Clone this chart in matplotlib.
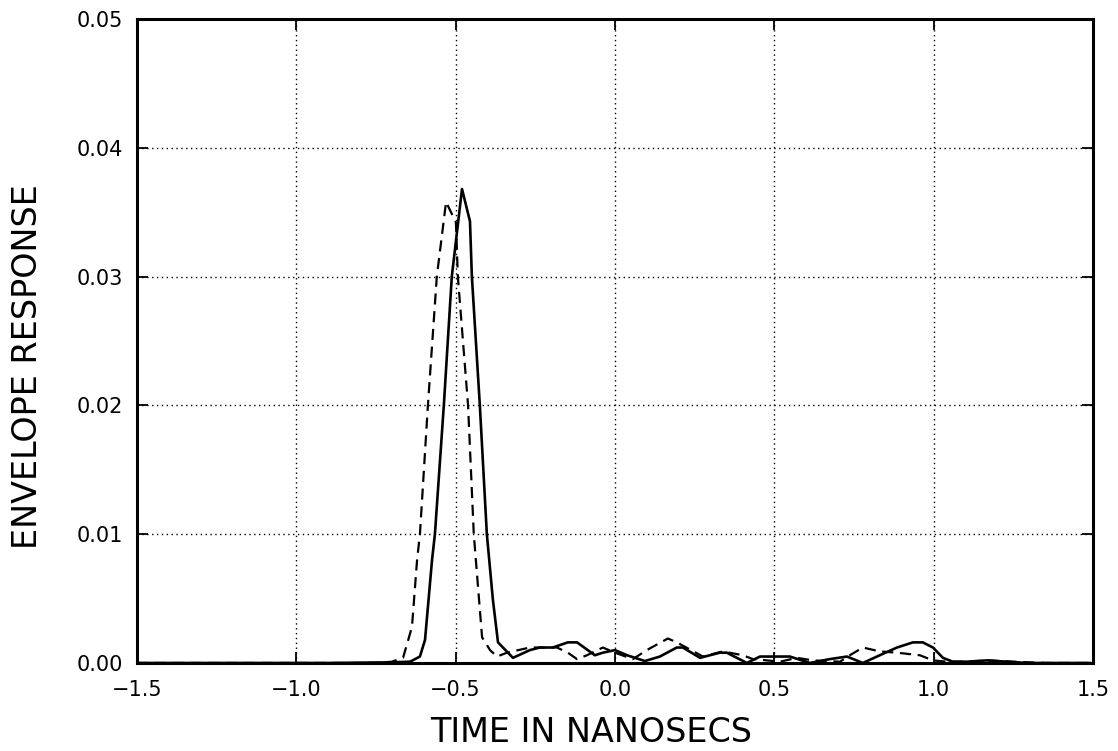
import numpy as np
import matplotlib
matplotlib.use("Agg")
from matplotlib import pyplot as plt

# solid curve (time in ns, envelope response)
solid_t = [-1.5, -0.9, -0.70, -0.643, -0.612, -0.596, -0.574, -0.565, -0.537, -0.512,
           -0.480, -0.455, -0.449, -0.424, -0.402, -0.383, -0.367, -0.320, -0.267, -0.236,
           -0.195, -0.148, -0.119, -0.063, -0.038, 0.000, 0.038, 0.094, 0.141, 0.194,
           0.213, 0.267, 0.329, 0.351, 0.414, 0.455, 0.486, 0.549, 0.574, 0.612,
           0.674, 0.728, 0.778, 0.831, 0.885, 0.935, 0.966, 0.998, 1.029, 1.060,
           1.104, 1.167, 1.230, 1.293, 1.355, 1.490]
solid_v = [0.0, 0.0, 0.00005, 0.0001, 0.0005, 0.0018, 0.0080, 0.0100, 0.0200, 0.0300,
           0.0368, 0.0343, 0.0300, 0.0200, 0.0100, 0.0049, 0.0016, 0.0004, 0.0010, 0.0012,
           0.0012, 0.0016, 0.0016, 0.0006, 0.0008, 0.0010, 0.0006, 0.00015, 0.0005, 0.0012,
           0.0012, 0.0004, 0.0008, 0.0008, 0.0, 0.0005, 0.0005, 0.0005, 0.0003, 0.0,
           0.0003, 0.0005, 0.0, 0.0006, 0.0012, 0.0016, 0.0016, 0.0012, 0.0004, 0.0001,
           0.0001, 0.0002, 0.0001, 0.0, 0.0, 0.0]

# dashed curve
dashed_t = [-1.5, -0.75, -0.70, -0.665, -0.637, -0.621, -0.612, -0.587, -0.559, -0.530,
            -0.499, -0.493, -0.461, -0.443, -0.417, -0.392, -0.370, -0.339, -0.267, -0.182,
            -0.148, -0.119, -0.088, -0.038, 0.000, 0.056, 0.100, 0.166, 0.194, 0.276,
            0.339, 0.401, 0.433, 0.477, 0.518, 0.571, 0.621, 0.706, 0.737, 0.778,
            0.831, 0.885, 0.957, 0.998, 1.042, 1.100, 1.170, 1.250, 1.350, 1.490]
dashed_v = [0.0, 0.0, 0.0001, 0.0004, 0.0028, 0.0080, 0.0100, 0.0200, 0.0300, 0.0358,
            0.0342, 0.0300, 0.0200, 0.0100, 0.0020, 0.0010, 0.0005, 0.0008, 0.0012, 0.0012,
            0.0008, 0.0003, 0.0006, 0.0012, 0.0008, 0.0003, 0.0010, 0.0019, 0.0016, 0.0005,
            0.0009, 0.0006, 0.0003, 0.0002, 0.0001, 0.0004, 0.0002, 0.0001, 0.0006, 0.0012,
            0.0009, 0.0008, 0.0006, 0.0002, 0.0001, 0.0001, 0.0002, 0.0001, 0.0, 0.0]

x_ticks = [-1.5, -1.0, -0.5, 0.0, 0.5, 1.0, 1.5]
x_labels = ['\u22121.5', '\u22121.0', '\u22120.5', '0.0', '0.5', '1.0', '1.5']
y_ticks = [0.0, 0.01, 0.02, 0.03, 0.04, 0.05]
y_labels = ['0.00', '0.01', '0.02', '0.03', '0.04', '0.05']

plt.rcParams['font.family'] = ['DejaVu Sans']

fig = plt.figure(figsize=(11.18, 7.51), dpi=100)
ax = fig.add_axes([0.1225, 0.1172, 0.8551, 0.8575])

ax.plot(solid_t, solid_v, color='black', linewidth=1.9, solid_joinstyle='round')
ax.plot(dashed_t, dashed_v, color='black', linewidth=1.6, dashes=(5, 3))

ax.set_xlim(-1.5, 1.5)
ax.set_ylim(0, 0.05)
ax.set_xticks(x_ticks)
ax.set_yticks(y_ticks)
ax.set_xticklabels(x_labels)
ax.set_yticklabels(y_labels)
ax.grid(True, color='black', linestyle=(0, (1, 2.5)), linewidth=1.0)

for s in ax.spines.values():
    s.set_linewidth(2.2)

ax.tick_params(axis='both', which='both', direction='in', length=8, width=1.3,
               top=True, right=True)
ax.tick_params(axis='x', labelsize=15, pad=12)
ax.tick_params(axis='y', labelsize=15, pad=10)

ax.set_xlabel('TIME IN NANOSECS', fontsize=24)
ax.xaxis.set_label_coords(0.475, -0.082)
ax.set_ylabel('ENVELOPE RESPONSE', fontsize=24)
ax.yaxis.set_label_coords(-0.097, 0.46)

fig.savefig('out.png', dpi=100)
